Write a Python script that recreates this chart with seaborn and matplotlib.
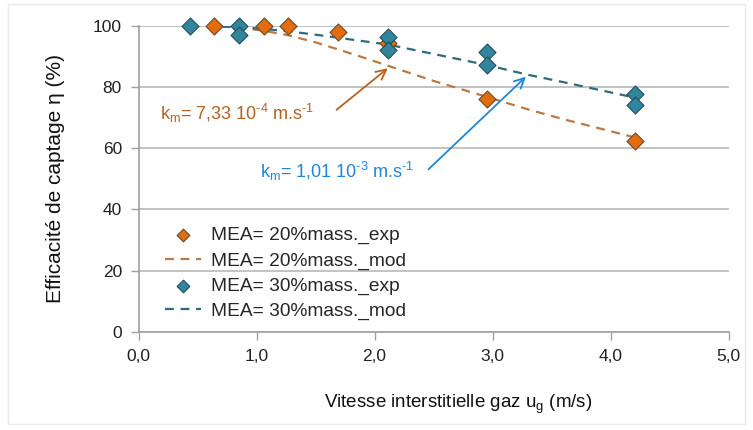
import matplotlib
matplotlib.use("Agg")
import matplotlib.pyplot as plt
import numpy as np
import pandas as pd
import seaborn as sns
from matplotlib.ticker import FixedLocator, FuncFormatter

# experimental points
x_exp20 = [0.64, 1.06, 1.27, 1.69, 2.11, 2.95, 4.21]
y_exp20 = [100, 100, 100, 98, 94.5, 76, 62.5]
x_exp30 = [0.44, 0.85, 0.85, 2.11, 2.11, 2.95, 2.95, 4.21, 4.21]
y_exp30 = [100, 100, 97, 96.5, 92.2, 91.3, 87.3, 77.8, 74.2]

# model curves
x_mod = [0.44, 0.64, 0.85, 1.06, 1.27, 1.5, 1.69, 1.9, 2.11, 2.5, 2.95, 3.3, 3.6, 4.21]
y_mod20 = [100, 99.9, 99.4, 98.4, 96.9, 94.6, 92.3, 89.7, 87.0, 82.0, 76.8, 72.7, 69.5, 63.5]
y_mod30 = [100, 99.9, 99.6, 99.0, 98.2, 97.1, 96.1, 95.0, 93.9, 90.8, 87.2, 84.0, 81.6, 76.5]

x_ticks = [0, 1, 2, 3, 4, 5]
y_ticks = [0, 20, 40, 60, 80, 100]

c_or = "#E46C0A"
c_or_line = "#B97A45"
c_bl = "#31859C"
c_bl_line = "#2F6B78"
c_txt_or = "#B5621F"
c_txt_bl = "#2185D5"

sns.set_style("white")
plt.rcParams['font.family'] = ['Liberation Sans', 'DejaVu Sans']

fig = plt.figure(figsize=(7.53, 4.30), dpi=100)
ax = fig.add_axes([0.184, 0.228, 0.7835, 0.712])

df20 = pd.DataFrame({"x": x_exp20, "y": y_exp20})
df30 = pd.DataFrame({"x": x_exp30, "y": y_exp30})
dfm = pd.DataFrame({"x": x_mod, "y20": y_mod20, "y30": y_mod30})

sns.lineplot(data=dfm, x="x", y="y20", ax=ax, color=c_or_line, lw=1.6,
             linestyle=(0, (4, 3)), label="MEA= 20%mass._mod", zorder=2)
sns.lineplot(data=dfm, x="x", y="y30", ax=ax, color=c_bl_line, lw=1.6,
             linestyle=(0, (4, 3)), label="MEA= 30%mass._mod", zorder=2)
sns.scatterplot(data=df20, x="x", y="y", ax=ax, marker="D", s=75, color=c_or,
                edgecolor="#6b4a2a", linewidth=0.8, label="MEA= 20%mass._exp",
                zorder=3, clip_on=False)
sns.scatterplot(data=df30, x="x", y="y", ax=ax, marker="D", s=75, color=c_bl,
                edgecolor="#23505c", linewidth=0.8, label="MEA= 30%mass._exp",
                zorder=4, clip_on=False)

ax.set_xlim(0, 5)
ax.set_ylim(0, 100)
ax.xaxis.set_major_locator(FixedLocator(x_ticks))
ax.yaxis.set_major_locator(FixedLocator(y_ticks))
ax.xaxis.set_major_formatter(FuncFormatter(lambda v, p: f"{v:.1f}".replace(".", ",")))
ax.yaxis.set_major_formatter(FuncFormatter(lambda v, p: f"{v:.0f}"))
ax.tick_params(axis="both", labelsize=12.5, colors="#222222", length=6,
               direction="out", width=1, bottom=True, left=True, pad=6)
ax.tick_params(axis="both", color="#A0A0A0")
ax.grid(axis="y", color="#BEBEBE", lw=1.3)
ax.set_axisbelow(True)
for s in ["top", "right"]:
    ax.spines[s].set_visible(False)
for s in ["left", "bottom"]:
    ax.spines[s].set_color("#A0A0A0")
    ax.spines[s].set_linewidth(1.2)

ax.set_xlabel(r"Vitesse interstitielle gaz u$_\mathregular{g}$ (m/s)", fontsize=13.5,
              color="#111111", va="center")
ax.xaxis.set_label_coords(0.542, -0.235)
ax.set_ylabel("Efficacité de captage η (%)", fontsize=15, color="#111111",
              va="center", ha="center")
ax.yaxis.set_label_coords(-0.14, 0.5)

ax.annotate("", xy=(2.13, 86.7), xytext=(1.66, 72),
            arrowprops=dict(arrowstyle="->", color=c_txt_or, lw=1.3, mutation_scale=18))
ax.text(0.18, 71.5, "k$_\\mathregular{m}$= 7,33 10$^\\mathregular{\u20104}$ m.s$^\\mathregular{\u20101}$",
        fontsize=13, color=c_txt_or, va="center", ha="left")
ax.annotate("", xy=(3.30, 84.0), xytext=(2.44, 52.5),
            arrowprops=dict(arrowstyle="->", color=c_txt_bl, lw=1.3, mutation_scale=18))
ax.text(1.03, 52.3, "k$_\\mathregular{m}$= 1,01 10$^\\mathregular{\u20103}$ m.s$^\\mathregular{\u20101}$",
        fontsize=13, color=c_txt_bl, va="center", ha="left")

h, l = ax.get_legend_handles_labels()
order = ["MEA= 20%mass._exp", "MEA= 20%mass._mod", "MEA= 30%mass._exp", "MEA= 30%mass._mod"]
hd = dict(zip(l, h))
ax.legend([hd[k] for k in order], order, loc="center left", bbox_to_anchor=(0.031, 0.191),
          frameon=False, fontsize=13.8, handlelength=1.9, handletextpad=0.55,
          labelspacing=0.4, borderaxespad=0.0, borderpad=0.4, markerscale=0.75)

fig.patches.append(plt.Rectangle((0.01, 0.015), 0.98, 0.975, transform=fig.transFigure,
                                 fill=False, edgecolor="#EAEAEA", lw=1))
fig.savefig("out.png", dpi=100)
